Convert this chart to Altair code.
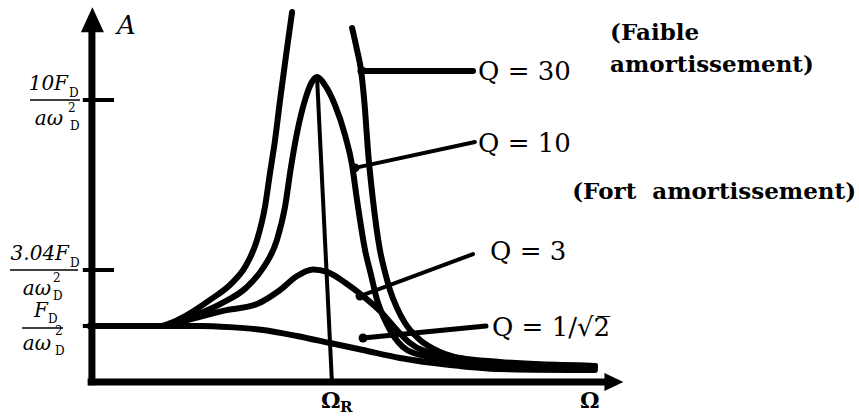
import altair as alt
import pandas as pd

# Amplitude A (in units of F_D / (a w_D^2)) versus driving pulsation Omega (in units of Omega_R)
q30_left_omega = [0, 0.29, 0.333, 0.404, 0.5, 0.592, 0.646, 0.696, 0.729, 0.75, 0.771, 0.792, 0.817, 0.842]
q30_left_amp = [1, 1, 1.1, 1.4, 1.95, 2.57, 3.16, 4.27, 5.62, 7.01, 8.36, 10.0, 11.84, 13.6]

q30_right_omega = [1.092, 1.1125, 1.129, 1.146, 1.158, 1.179, 1.208, 1.229, 1.25, 1.279, 1.3125,
                   1.375, 1.458, 1.583, 1.792, 2.104]
q30_right_amp = [12.95, 12.05, 11.23, 9.59, 7.95, 5.91, 3.86, 2.97, 2.31, 1.66, 1.11,
                 0.75, 0.536, 0.393, 0.321, 0.286]

q10_omega = [0, 0.3, 0.354, 0.429, 0.542, 0.654, 0.721, 0.779, 0.8125, 0.8375, 0.8625, 0.896,
             0.925, 0.946, 0.979, 1.021, 1.0625, 1.092, 1.1125, 1.146, 1.171, 1.196, 1.225, 1.25,
             1.321, 1.417, 1.625, 2.104]
q10_amp = [1, 1, 1.1, 1.36, 1.80, 2.42, 3.12, 4.27, 5.62, 7.26, 8.65, 10.0,
           10.74, 10.94, 10.61, 9.79, 8.57, 7.34, 5.91, 3.86, 2.86, 1.95, 1.29, 0.929,
           0.571, 0.446, 0.339, 0.268]

q3_omega = [0, 0.31, 0.417, 0.554, 0.696, 0.792, 0.8625, 0.929, 0.9875, 1.071, 1.1375, 1.208,
            1.271, 1.333, 1.458, 1.708, 2.104]
q3_amp = [1, 1, 1.24, 1.55, 1.80, 2.31, 2.82, 3.06, 2.97, 2.53, 2.09, 1.55,
          0.964, 0.696, 0.482, 0.357, 0.286]

qlow_omega = [0, 0.458, 0.583, 0.721, 0.8625, 1.0, 1.1375, 1.2917, 1.5, 1.708, 2.104]
qlow_amp = [1, 1, 0.98, 0.929, 0.821, 0.696, 0.571, 0.429, 0.304, 0.232, 0.214]

# Axis ticks (amplitude levels) and their fraction labels
tick_amp = [1, 3.04, 10]
numerators = ["F", "3.04F", "10F"]

# Callouts: curve name, anchor on the curve, end of the leader, label position
callout_text = ["Q = 30", "Q = 10", "Q = 3", "Q = 1/\u221a2\u0305"]
callout_from_omega = [1.133, 1.104, 1.125, 1.1375]
callout_from_amp = [11.19, 7.22, 2.09, 0.786]
callout_to_omega = [1.596, 1.604, 1.596, 1.65]
callout_to_amp = [11.19, 8.28, 3.69, 1.0]
callout_label_omega = [1.617, 1.617, 1.667, 1.675]
callout_label_amp = [11.15, 8.20, 3.78, 0.964]
callout_width = [6, 4, 4, 5]

W, H = 859, 418
x_scale = alt.Scale(domain=[-0.375, 3.2042], zero=False, nice=False)
# schematic (piecewise) amplitude axis
y_scale = alt.Scale(domain=[0, 1, 3.04, 10], range=[382, 326, 270, 100], zero=False, nice=False)

SERIF = "DejaVu Serif"


def X(field):
    return alt.X(field, type="quantitative", scale=x_scale, axis=None)


def Y(field):
    return alt.Y(field, type="quantitative", scale=y_scale, axis=None)


rows = []
for name, om, am in [("Q30a", q30_left_omega, q30_left_amp),
                     ("Q30b", q30_right_omega, q30_right_amp),
                     ("Q10", q10_omega, q10_amp),
                     ("Q3", q3_omega, q3_amp),
                     ("Qlow", qlow_omega, qlow_amp)]:
    for o, a in zip(om, am):
        rows.append({"curve": name, "omega": o, "amp": a})
curves_df = pd.DataFrame(rows)

curves = alt.Chart(curves_df).mark_line(
    color="black", strokeWidth=6, interpolate="monotone", strokeCap="round", strokeJoin="round"
).encode(x=X("omega"), y=Y("amp"), detail="curve:N")

# Coordinate axes with arrow heads
axes_df = pd.DataFrame({
    "x0": [0.008, -0.01], "x1": [0.008, 2.154],
    "y0": [-0.06, 0], "y1": [12.86, 0],
})
axes = alt.Chart(axes_df).mark_rule(color="black", strokeWidth=7).encode(
    x=X("x0"), x2="x1", y=Y("y0"), y2="y1")

arrow_up = alt.Chart(pd.DataFrame({"o": [0.01], "a": [13.29]})).mark_point(
    shape="M0,-1L0.92,1L-0.92,1Z", filled=True, size=625, color="black", opacity=1, strokeWidth=0
).encode(x=X("o"), y=Y("a"))
arrow_right = alt.Chart(pd.DataFrame({"o": [2.183], "a": [0]})).mark_point(
    shape="M1,0L-1,0.95L-1,-0.95Z", filled=True, size=361, color="black", opacity=1, strokeWidth=0
).encode(x=X("o"), y=Y("a"))

ticks_df = pd.DataFrame({"x0": [-0.03] * 3, "x1": [0.1] * 3, "a": tick_amp})
ticks = alt.Chart(ticks_df).mark_rule(color="black", strokeWidth=4).encode(
    x=X("x0"), x2="x1", y=Y("a"))

# Omega_R marker line (from the Q = 10 peak down to the axis)
res_df = pd.DataFrame({"x0": [0.946], "y0": [10.94], "x1": [1.008], "y1": [0]})
res_line = alt.Chart(res_df).mark_rule(color="black", strokeWidth=4).encode(
    x=X("x0"), y=Y("y0"), x2="x1", y2="y1")

# Fraction labels of the amplitude ticks
num_df = pd.DataFrame({"t": numerators, "o": [-0.175, -0.0875, -0.0917], "a": [1.33, 3.45, 10.41]})
num = alt.Chart(num_df).mark_text(
    font=SERIF, fontStyle="italic", fontSize=20, align="right", baseline="alphabetic", color="black"
).encode(x=X("o"), y=Y("a"), text="t:N")

bar_df = pd.DataFrame({"x0": [-0.283, -0.333, -0.25], "x1": [-0.1125, -0.05, -0.0417],
                       "a": [0.964, 3.04, 10]})
bars = alt.Chart(bar_df).mark_rule(color="black", strokeWidth=1.5).encode(
    x=X("x0"), x2="x1", y=Y("a"))

den_df = pd.DataFrame({"t": ["a\u03c9"] * 3, "o": [-0.1625, -0.1625, -0.1125], "a": [0.571, 2.13, 8.975]})
den = alt.Chart(den_df).mark_text(
    font=SERIF, fontStyle="italic", fontSize=20, align="right", baseline="alphabetic", color="black"
).encode(x=X("o"), y=Y("a"), text="t:N")

small_df = pd.DataFrame({
    "t": ["D", "D", "D", "2", "2", "2", "D", "D", "D"],
    "o": [-0.175, -0.0833, -0.0875, -0.146, -0.154, -0.0917, -0.146, -0.154, -0.0833],
    "a": [1.11, 3.16, 10.12, 0.839, 2.60, 9.51, 0.482, 1.95, 8.77],
})
small = alt.Chart(small_df).mark_text(
    font=SERIF, fontSize=12, align="left", baseline="alphabetic", color="black"
).encode(x=X("o"), y=Y("a"), text="t:N")

# Callouts
call_df = pd.DataFrame({
    "t": callout_text, "fo": callout_from_omega, "fa": callout_from_amp,
    "to": callout_to_omega, "ta": callout_to_amp,
    "lo": callout_label_omega, "la": callout_label_amp, "w": callout_width,
})
leaders = alt.Chart(call_df).mark_rule(color="black", strokeCap="round").encode(
    x=X("fo"), y=Y("fa"), x2="to", y2="ta",
    strokeWidth=alt.StrokeWidth("w:Q", scale=None))
dots = alt.Chart(call_df).mark_circle(color="black", size=80, opacity=1).encode(
    x=X("fo"), y=Y("fa"))
call_labels = alt.Chart(call_df).mark_text(
    font=SERIF, fontSize=26, align="left", baseline="middle", color="black"
).encode(x=X("lo"), y=Y("la"), text="t:N")

notes_df = pd.DataFrame({"t": ["(Faible", "amortissement)"], "o": [2.167, 2.167], "a": [12.74, 11.43]})
notes = alt.Chart(notes_df).mark_text(
    font=SERIF, fontWeight="bold", fontSize=23, align="left", baseline="middle", color="black"
).encode(x=X("o"), y=Y("a"), text="t:N")
note_fort = alt.Chart(pd.DataFrame({"t": ["(Fort\u00a0 amortissement)"], "o": [3.192], "a": [6.23]})).mark_text(
    font=SERIF, fontWeight="bold", fontSize=23, align="right", baseline="middle", color="black"
).encode(x=X("o"), y=Y("a"), text="t:N")

# Axis names
a_label = alt.Chart(pd.DataFrame({"t": ["A"], "o": [0.1125], "a": [13.03]})).mark_text(
    font=SERIF, fontStyle="italic", fontSize=26, align="left", baseline="middle", color="black"
).encode(x=X("o"), y=Y("a"), text="t:N")
omega_labels = alt.Chart(pd.DataFrame({"t": ["\u03a9", "\u03a9"], "o": [0.9625, 2.042], "a": [-0.339, -0.339]})).mark_text(
    font=SERIF, fontWeight="bold", fontSize=22, align="left", baseline="middle", color="black"
).encode(x=X("o"), y=Y("a"), text="t:N")
r_label = alt.Chart(pd.DataFrame({"t": ["R"], "o": [1.042], "a": [-0.446]})).mark_text(
    font=SERIF, fontWeight="bold", fontSize=15, align="left", baseline="middle", color="black"
).encode(x=X("o"), y=Y("a"), text="t:N")

chart = alt.layer(
    axes, arrow_up, arrow_right, ticks, res_line, curves, leaders, dots,
    num, bars, den, small, call_labels, notes, note_fort, a_label, omega_labels, r_label,
).properties(
    width=W, height=H, padding=0, background="white",
    autosize=alt.AutoSizeParams(type="none"),
).configure_view(strokeWidth=0)

chart.save("out.html", embed_options={"renderer": "svg", "actions": False})
